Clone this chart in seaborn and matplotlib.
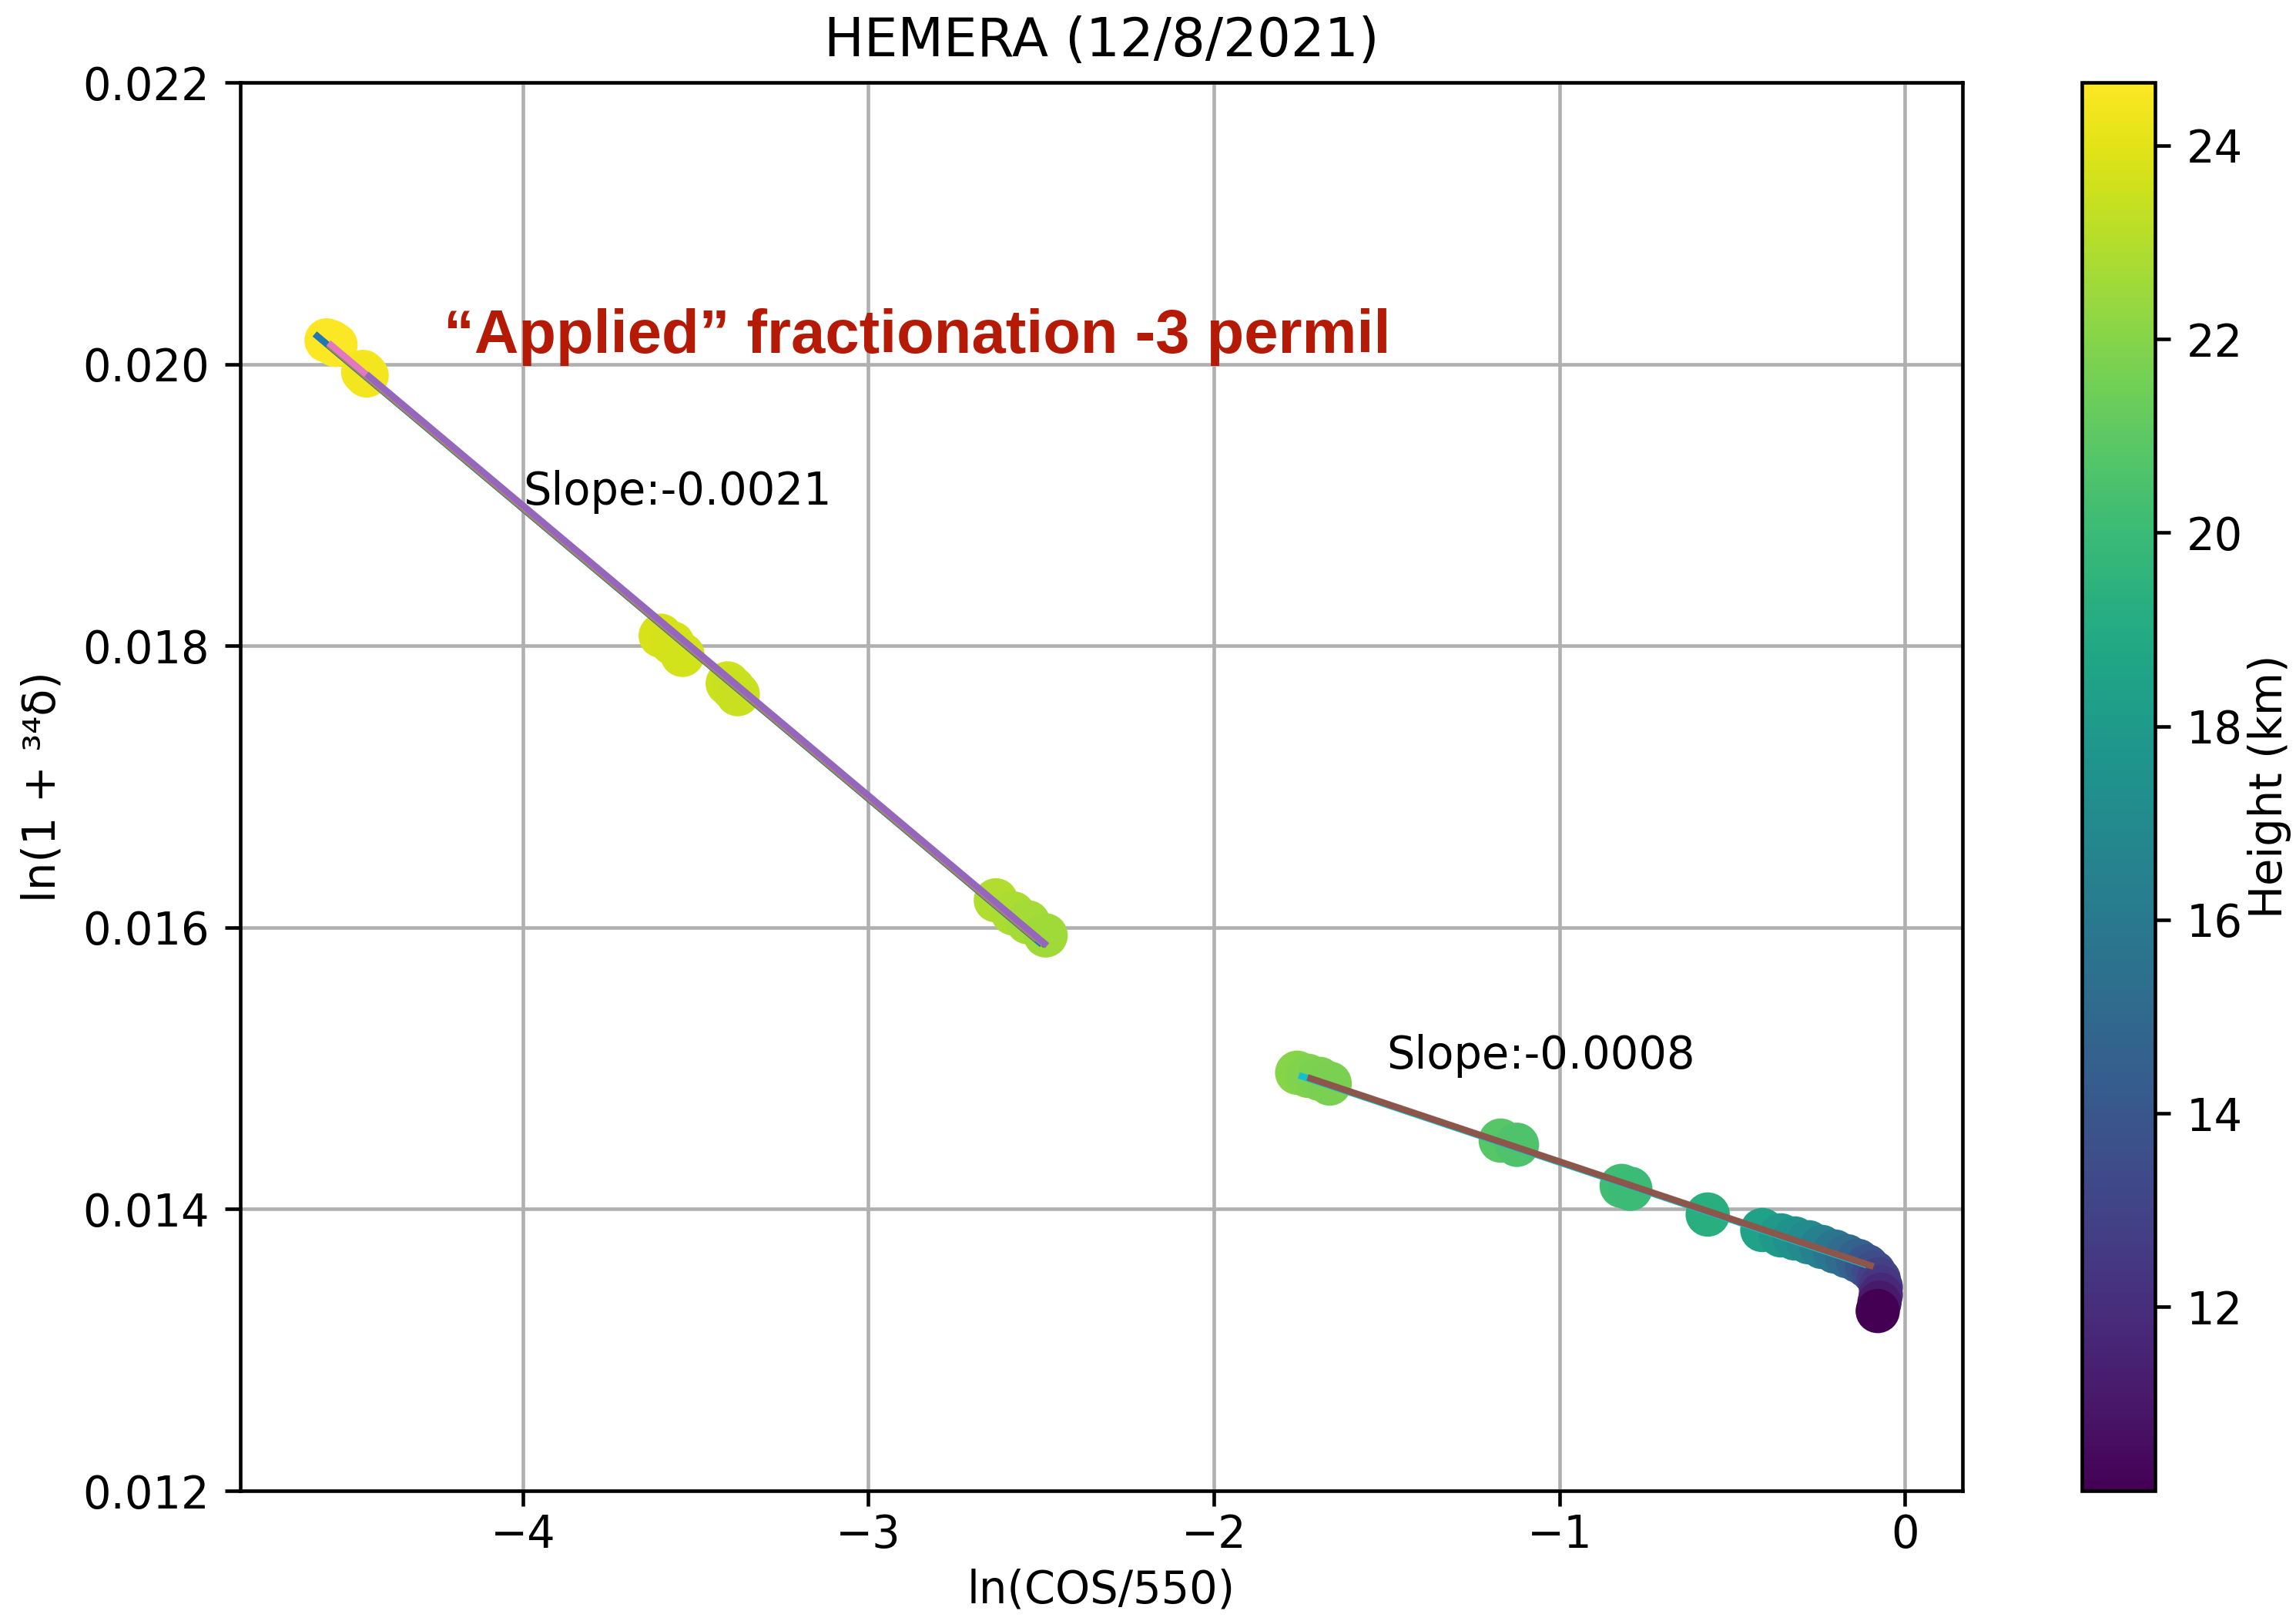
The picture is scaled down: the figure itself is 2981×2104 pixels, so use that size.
import matplotlib
matplotlib.use("Agg")
import matplotlib.pyplot as plt
import numpy as np
import pandas as pd
import seaborn as sns
from matplotlib.colors import Normalize
from matplotlib.cm import ScalarMappable

# Balloon profile: ln(COS/550) vs ln(1 + 34-delta), coloured by altitude
ln_cos = [
    -4.568, -4.555, -4.542, -4.462, -4.452,
    -3.601, -3.567, -3.538, -3.407, -3.391, -3.378,
    -2.631, -2.581, -2.538, -2.487,
    -1.759, -1.728, -1.694, -1.665,
    -1.170, -1.123,
    -0.820, -0.795,
    -0.571,
    -0.413, -0.359, -0.319, -0.279, -0.241, -0.203, -0.168, -0.136,
    -0.110, -0.090, -0.076, -0.070, -0.070, -0.074, -0.079,
]
ln_delta = [
    0.020169, 0.020158, 0.020137, 0.019945, 0.019920,
    0.018072, 0.018018, 0.017936, 0.017733, 0.017695, 0.017657,
    0.016193, 0.016100, 0.016037, 0.015944,
    0.014969, 0.014947, 0.014925, 0.014892,
    0.014487, 0.014457,
    0.014165, 0.014145,
    0.013962,
    0.013852, 0.013814, 0.013792, 0.013765, 0.013732, 0.013699, 0.013666, 0.013633,
    0.013595, 0.013551, 0.013502, 0.013447, 0.013392, 0.013337, 0.013277,
]
height_km = [
    24.65, 24.60, 24.55, 24.45, 24.40,
    23.75, 23.70, 23.65, 23.55, 23.50, 23.45,
    22.90, 22.80, 22.70, 22.60,
    22.00, 21.90, 21.80, 21.70,
    20.80, 20.60,
    20.20, 20.00,
    19.30,
    18.50, 18.00, 17.50, 17.00, 16.40, 15.80, 15.20, 14.60,
    14.00, 13.40, 12.90, 12.40, 11.80, 11.10, 10.10,
]

# Linear fits (y = slope * x + intercept) over the upper and lower sections
fit_x_start = [-4.595, -4.555, -4.555, -4.555, -4.445, -1.745, -1.720]
fit_x_end = [-2.505, -2.520, -2.495, -2.500, -2.490, -0.120, -0.100]
fit_slope = [-0.00206, -0.00206, -0.00206, -0.00206, -0.00206, -0.00082, -0.00082]
fit_intercept = [0.010734, 0.010742, 0.010748, 0.010752, 0.010757, 0.013512, 0.013518]
fit_color = ["C0", "C1", "C2", "C6", "C4", "C9", "C5"]

# Slope annotations
slope_text_x = [-4.0, -1.5]
slope_text_y = [0.019, 0.015]
slope_value = [-0.00206, -0.00082]

height_min, height_max = 10.1, 24.65

DPI = 414
fig = plt.figure(figsize=(2981 / DPI, 2104 / DPI), dpi=DPI)
ax = fig.add_axes([0.1046, 0.0803, 0.7502, 0.8688])
cax = fig.add_axes([0.9068, 0.0803, 0.0319, 0.8688])

df = pd.DataFrame({"x": ln_cos, "y": ln_delta, "h": height_km})
norm = Normalize(vmin=height_min, vmax=height_max)
sns.scatterplot(
    data=df, x="x", y="y", hue="h", palette="viridis", hue_norm=norm,
    s=100, linewidth=0, edgecolor="none", legend=False, ax=ax, zorder=2,
)

for x0, x1, m, b, c in zip(fit_x_start, fit_x_end, fit_slope, fit_intercept, fit_color):
    xs = np.array([x0, x1])
    ax.plot(xs, m * xs + b, color=c, lw=1.5, zorder=3)

for tx, ty, m in zip(slope_text_x, slope_text_y, slope_value):
    ax.text(tx, ty, f"Slope:{m:.4f}", fontsize=10, zorder=4)

ax.text(-4.23, 0.02008, "\u201cApplied\u201d fractionation -3 permil",
        color="#b41a06", fontsize=13.85, fontweight="bold",
        family="Liberation Sans", zorder=4)

ax.set_xlim(-4.818, 0.1667)
ax.set_ylim(0.012, 0.022)
ax.set_xticks([-4, -3, -2, -1, 0])
ax.set_yticks([0.012, 0.014, 0.016, 0.018, 0.020, 0.022])
ax.tick_params(axis="x", pad=1.5)
ax.grid(True, color="#b0b0b0", linewidth=0.8)
ax.set_axisbelow(True)
ax.set_xlabel("ln(COS/550)", labelpad=2.5)
ax.set_ylabel("ln(1 + \u00b3\u2074\u03b4)")
ax.set_title("HEMERA (12/8/2021)")

sm = ScalarMappable(norm=norm, cmap="viridis")
sm.set_array([])
cb = fig.colorbar(sm, cax=cax)
cb.set_label("Height (km)", labelpad=1)

fig.savefig("out.png", dpi=DPI)
